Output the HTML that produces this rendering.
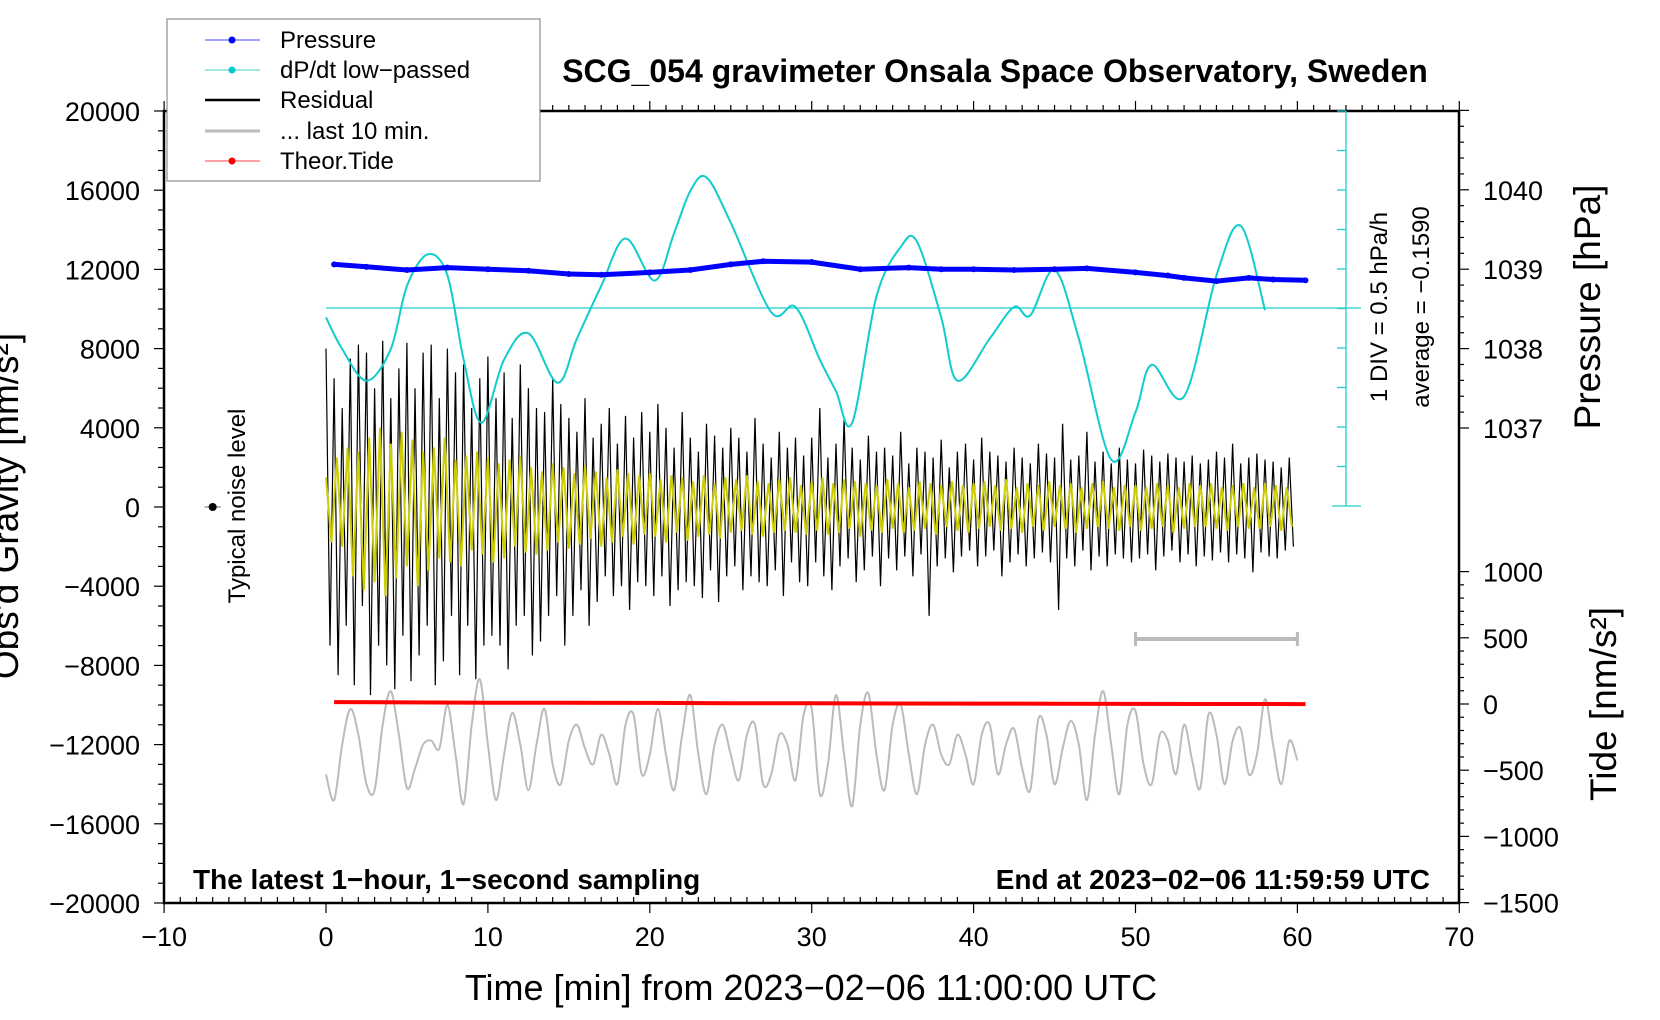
<!DOCTYPE html>
<html><head><meta charset="utf-8"><style>
html,body{margin:0;padding:0;background:#fff;}
svg{display:block;font-family:"Liberation Sans",Arial,sans-serif;}
</style></head><body>
<svg id="chart" width="1660" height="1020" viewBox="0 0 1660 1020">
<g id="axes"></g>
<g id="marks"></g>
<g id="legend">
  <rect x="167" y="19" width="373" height="162" fill="#fff" stroke="#777" stroke-width="1"/>
  <g><line x1="205" y1="40" x2="260" y2="40" stroke="#44f" stroke-width="1"/><circle cx="232" cy="40" r="3.5" fill="#00f"/><text x="280" y="48" font-size="24">Pressure</text></g>
  <g><line x1="205" y1="70" x2="260" y2="70" stroke="#4cc" stroke-width="1"/><circle cx="232" cy="70" r="3.5" fill="#0cc"/><text x="280" y="78" font-size="24">dP/dt low−passed</text></g>
  <g><line x1="205" y1="100" x2="260" y2="100" stroke="#000" stroke-width="2.5"/><text x="280" y="108" font-size="24">Residual</text></g>
  <g><line x1="205" y1="131" x2="260" y2="131" stroke="#bbb" stroke-width="3"/><text x="280" y="139" font-size="24">... last 10 min.</text></g>
  <g><line x1="205" y1="161" x2="260" y2="161" stroke="#f44" stroke-width="1"/><circle cx="232" cy="161" r="3.5" fill="#f00"/><text x="280" y="169" font-size="24">Theor.Tide</text></g>
</g>
<text x="995" y="82" font-size="32" font-weight="bold" text-anchor="middle">SCG_054 gravimeter Onsala Space Observatory, Sweden</text>
<text x="193" y="889" font-size="28" font-weight="bold">The latest 1−hour, 1−second sampling</text>
<text x="1430" y="889" font-size="28" font-weight="bold" text-anchor="end">End at 2023−02−06 11:59:59 UTC</text>
<text x="811" y="1000" font-size="36" text-anchor="middle">Time [min] from 2023−02−06 11:00:00 UTC</text>
<text transform="translate(18,506) rotate(-90)" font-size="37" text-anchor="middle">Obs'd Gravity [nm/s²]</text>
<text transform="translate(1600,307) rotate(-90)" font-size="37" text-anchor="middle">Pressure [hPa]</text>
<text transform="translate(1616,704) rotate(-90)" font-size="37" text-anchor="middle">Tide [nm/s²]</text>
<text transform="translate(1387,307) rotate(-90)" font-size="24" text-anchor="middle">1 DIV = 0.5 hPa/h</text>
<text transform="translate(1429,307) rotate(-90)" font-size="24" text-anchor="middle">average = −0.1590</text>
<text transform="translate(245,506) rotate(-90)" font-size="24" text-anchor="middle">Typical noise level</text>
</svg>
<script>
const xTicks=[-10,0,10,20,30,40,50,60,70];
const gTicks=[20000,16000,12000,8000,4000,0,-4000,-8000,-12000,-16000,-20000];
const pTicks=[1040,1039,1038,1037];
const tTicks=[1000,500,0,-500,-1000,-1500];
const dpAvg=-0.159;
const dpTimes=[0,1,2.5,4,5,6.3,7.5,8.5,9.6,11,12.5,14.3,15.5,17,18.5,20.3,21.5,22.5,23.5,25,27.5,29,30.5,31.5,32.5,34,35.5,36.5,38,39,41,42.5,43.5,45,46.5,48.5,50,51,53,55,56.5,58];
const dpValues=[-0.279,-0.679,-1.079,-0.679,0.121,0.521,0.254,-0.812,-1.612,-0.812,-0.479,-1.105,-0.546,0.121,0.721,0.188,0.788,1.321,1.494,0.921,-0.212,-0.146,-0.812,-1.212,-1.612,-0.012,0.614,0.681,-0.279,-1.079,-0.546,-0.146,-0.252,0.321,-0.546,-2.079,-1.479,-0.879,-1.279,0.254,0.881,-0.186];
const pTimes=[0.5,2.5,5,7.5,10,12.5,15,17,20,22.5,25,27,30,33,36,38,40,42.5,45,47,50,52,53,55,57,58.5,60.5];
const pValues=[1039.06,1039.03,1038.99,1039.02,1039.0,1038.98,1038.94,1038.93,1038.96,1038.99,1039.06,1039.10,1039.09,1039.0,1039.02,1039.0,1039.0,1038.99,1039.0,1039.01,1038.96,1038.92,1038.89,1038.85,1038.89,1038.87,1038.86];
const tideTimes=[0.5,5,10,15,20,25,30,35,40,45,50,55,60.5];
const tideValues=[14,12,10,9,8,6,5,4,3,2,1,0,-1];
const resValues=[8000,-7000,6500,-8500,5000,-6000,7500,-9000,8200,-5000,7800,-9500,6000,-7000,8400,-8000,5500,-9200,7000,-6500,
8300,-8800,6000,-7500,7800,-6000,8200,-9000,5500,-7800,8000,-5500,6800,-8500,7200,-6000,5000,-8700,6500,-7000,
7600,-6500,5500,-7000,6800,-8200,4500,-6000,7200,-5500,6000,-7500,5000,-6800,4800,-5500,6500,-4500,5200,-7000,
4500,-5500,3800,-4200,5500,-6000,3500,-4800,4200,-3500,5000,-4500,3200,-4000,4600,-5200,3500,-3800,4800,-4000,
3800,-4500,5200,-3500,4000,-5000,3000,-4200,4800,-3800,3500,-4000,2800,-4600,4200,-3200,3600,-4800,3000,-3500,
4000,-3000,3500,-4200,2800,-3500,4500,-3800,3200,-4000,2500,-3200,3800,-4500,3000,-2800,3500,-3800,2600,-4000,
3500,-2800,5000,-3500,2500,-4200,3200,-3000,4500,-2600,3000,-3800,2400,-3200,3600,-2500,2800,-4000,3000,-2600,
2600,-3200,3800,-2500,2200,-3500,3000,-2400,2800,-5500,2500,-3000,3400,-2600,2000,-3300,2800,-2500,3200,-2200,
2400,-3000,3500,-2500,2800,-2200,2600,-3500,2300,-2800,3000,-2400,2500,-3000,2200,-2600,3200,-2300,2700,-2800,
2500,-5200,4200,-2600,2400,-3000,2600,-2200,3800,-3200,2300,-2500,2800,-3000,2200,-2400,3000,-2600,2400,-2800,
2200,-2600,2900,-2400,2600,-3200,2300,-2500,2700,-2200,2500,-2800,2300,-2400,2600,-3000,2200,-2500,2400,-2700,
2800,-2300,2500,-2800,3200,-2400,2200,-2600,2500,-3300,2700,-2300,2400,-2500,2300,-2600,2000,-2200,2500,-2000];
const yelValues=[1500,-1800,2500,-2000,3000,-3500,2800,-4200,3500,-3800,4000,-4500,3200,-3600,3800,-3000,3400,-4000,2800,-3200,3000,-2600,3500,-2800,2400,-3000,2600,-2200,2800,-2400,
2500,-2800,2200,-2600,2400,-2000,2600,-2300,2000,-2400,1800,-2200,2200,-1800,2000,-2100,1700,-1900,2100,-1600,1800,-2000,1500,-1800,1900,-1500,1700,-1900,1600,-1400,
1700,-1500,1400,-1800,1600,-1300,1500,-1700,1300,-1500,1600,-1400,1200,-1600,1500,-1300,1400,-1200,1600,-1400,1300,-1500,1200,-1300,1400,-1200,1500,-1300,1100,-1400,
1300,-1200,1500,-1400,1200,-1300,1400,-1100,1300,-1500,1200,-1200,1100,-1300,1400,-1100,1200,-1300,1000,-1200,1300,-1100,1200,-1400,1100,-1000,1300,-1200,1100,-1300,
1200,-1100,1300,-1000,1100,-1200,1400,-1100,1000,-1300,1200,-1000,1100,-1200,1300,-1000,1100,-1100,1200,-1300,1000,-1100,1200,-1000,1300,-1100,1000,-1200,1100,-1000,
1100,-1200,1000,-1100,1200,-1000,1100,-1300,1000,-1100,1200,-1000,1100,-1000,1200,-1100,1000,-1200,1100,-1000,1200,-1100,1000,-1100,1200,-1000,1100,-1200,1000,-1000];
const grayValues=[-13500,-14800,-12000,-10200,-11500,-14000,-14300,-11000,-9300,-11500,-14200,-13200,-12000,-11800,-12200,-10000,-12500,-15000,-11000,-8700,-12000,-14800,-12500,-10400,-12000,-14300,-12000,-10200,-13000,-14000,-11800,-11000,-12200,-13000,-11500,-12500,-14000,-11000,-10500,-13500,-12500,-10200,-12500,-14300,-11500,-9500,-12500,-14500,-12000,-11000,-12500,-13800,-11500,-11000,-14000,-13500,-11500,-12000,-13800,-10500,-10200,-14500,-13000,-9500,-12500,-15100,-11000,-9400,-12500,-14300,-11000,-10000,-12500,-14500,-12000,-11000,-12500,-13000,-11500,-12500,-14000,-11500,-11000,-13500,-12000,-11200,-13200,-14300,-10700,-11500,-14000,-12200,-10800,-12000,-14800,-11500,-9300,-12000,-14500,-11000,-10300,-13000,-14000,-11500,-11800,-13500,-11000,-12800,-14200,-10500,-11500,-14000,-11800,-11200,-13500,-12500,-9700,-12000,-14000,-11800,-12800];

const NS="http://www.w3.org/2000/svg";
const X=t=>326+t*16.19;
const Yg=g=>507-g*0.0198;
const Yp=p=>428-(p-1037)*79.4;
const Yt=v=>704-v*0.1324;
const Yd=v=>308-(v-dpAvg)/0.5*39.5;
function mk(tag,attrs,parent){const e=document.createElementNS(NS,tag);for(const k in attrs)e.setAttribute(k,attrs[k]);parent.appendChild(e);return e;}
const axes=document.getElementById('axes'), marks=document.getElementById('marks');
function smooth(pts){let d=`M${pts[0][0]},${pts[0][1]}`;for(let i=0;i<pts.length-1;i++){const p0=pts[i-1]||pts[i],p1=pts[i],p2=pts[i+1],p3=pts[i+2]||p2;d+=` C${p1[0]+(p2[0]-p0[0])/6},${p1[1]+(p2[1]-p0[1])/6} ${p2[0]-(p3[0]-p1[0])/6},${p2[1]-(p3[1]-p1[1])/6} ${p2[0]},${p2[1]}`;}return d;}
function poly(pts){return pts.map(p=>p[0].toFixed(1)+','+p[1].toFixed(1)).join(' ');}

let fr=mk('rect',{x:164,y:111,width:1295,height:792,fill:'none',stroke:'#000','stroke-width':2.5},axes);


for(let t=-10;t<=70;t++){const x=X(t);const maj=t%10===0;
 mk('line',{x1:x,y1:903,x2:x,y2:maj?913:897,stroke:'#000','stroke-width':1.2},axes);
 mk('line',{x1:x,y1:111,x2:x,y2:maj?101:105,stroke:'#000','stroke-width':1.2},axes);}
xTicks.forEach(t=>{const e=mk('text',{x:X(t),y:946,'font-size':27,'text-anchor':'middle'},axes);e.textContent=String(t).replace('-','−');
 
 });
for(let g=-20000;g<=20000;g+=1000){const y=Yg(g);const maj=g%4000===0;mk('line',{x1:maj?154:158,y1:y,x2:164,y2:y,stroke:'#000','stroke-width':1.2},axes);}
gTicks.forEach(g=>{const e=mk('text',{x:140,y:Yg(g)+10,'font-size':27,'text-anchor':'end'},axes);e.textContent=String(g).replace('-','−');
 
 });
for(let p=1037;p<=1041.001;p+=0.2){const y=Yp(p);const maj=Math.abs(p-Math.round(p))<0.01;mk('line',{x1:1459,y1:y,x2:maj?1469:1464,y2:y,stroke:'#000','stroke-width':1.2},axes);}
pTicks.forEach(p=>{const e=mk('text',{x:1483,y:Yp(p)+10,'font-size':27},axes);e.textContent=p;
 
 });
for(let v=-1500;v<=1000;v+=100){const y=Yt(v);const maj=v%500===0;mk('line',{x1:1459,y1:y,x2:maj?1469:1464,y2:y,stroke:'#000','stroke-width':1.2},axes);}
tTicks.forEach(v=>{const e=mk('text',{x:1483,y:Yt(v)+10,'font-size':27},axes);e.textContent=String(v).replace('-','−');
 
 });
mk('line',{x1:326,y1:Yd(dpAvg),x2:1361,y2:Yd(dpAvg),stroke:'#2cc','stroke-width':1.3},marks);
mk('line',{x1:1346,y1:111,x2:1346,y2:506,stroke:'#2cc','stroke-width':1.3},marks);
for(let i=0;i<=10;i++){const y=111+i*39.5;mk('line',{x1:i===10?1332:1337,y1:y,x2:i===10?1361:1346,y2:y,stroke:'#2cc','stroke-width':1.3},marks);}
let gp=mk('path',{d:smooth(grayValues.map((v,i)=>[X(i*0.5),Yg(v)])),fill:'none',stroke:'#bbb','stroke-width':2},marks);


let rl=mk('polyline',{points:poly(resValues.map((v,i)=>[X(i*0.25),Yg(v)])),fill:'none',stroke:'#000','stroke-width':1.2},marks);


let yl=mk('polyline',{points:poly(yelValues.map((v,i)=>[X(i/3),Yg(v)])),fill:'none',stroke:'#cc0','stroke-width':2},marks);


let cl=mk('path',{d:smooth(dpTimes.map((t,i)=>[X(t),Yd(dpValues[i])])),fill:'none',stroke:'#1cc','stroke-width':2},marks);


let pl=mk('polyline',{points:poly(pTimes.map((t,i)=>[X(t),Yp(pValues[i])])),fill:'none',stroke:'#00f','stroke-width':5},marks);


pTimes.forEach((t,i)=>{const c=mk('circle',{cx:X(t),cy:Yp(pValues[i]),r:3,fill:'#00f'},marks);
 
 });
let tl=mk('polyline',{points:poly(tideTimes.map((t,i)=>[X(t),Yt(tideValues[i])])),fill:'none',stroke:'#f00','stroke-width':4},marks);


let sb=mk('g',{},marks);


mk('line',{x1:X(50),y1:639,x2:X(60),y2:639,stroke:'#bbb','stroke-width':4},sb);
mk('line',{x1:X(50),y1:632,x2:X(50),y2:646,stroke:'#bbb','stroke-width':3},sb);
mk('line',{x1:X(60),y1:632,x2:X(60),y2:646,stroke:'#bbb','stroke-width':3},sb);
let nd=mk('g',{},marks);


mk('line',{x1:X(-7.5),y1:Yg(0),x2:X(-6.5),y2:Yg(0),stroke:'#999','stroke-width':1.5},nd);
mk('circle',{cx:X(-7),cy:Yg(0),r:4,fill:'#000'},nd);
</script>
</body></html>
